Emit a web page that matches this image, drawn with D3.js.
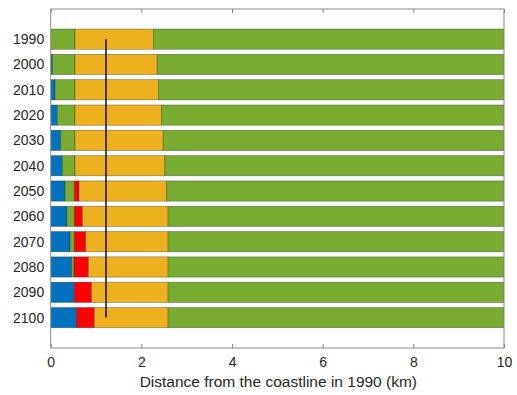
<!DOCTYPE html>
<html>
<head>
<meta charset="utf-8">
<script src="https://cdn.jsdelivr.net/npm/d3@7"></script>
<style>
  html, body { margin: 0; padding: 0; background: #fff; }
  svg { display: block; }
  text { font-family: "Liberation Sans", Arial, Helvetica, sans-serif; fill: #262626; }
</style>
</head>
<body>
<svg id="chart" width="517" height="395"></svg>
<script>
// Years shown on the vertical axis
const years = ["1990", "2000", "2010", "2020", "2030", "2040", "2050", "2060", "2070", "2080", "2090", "2100"];

// Width (km) of each land-cover band, ordered from the coastline inland
const water   = [0, 0.04, 0.095, 0.146, 0.22, 0.256, 0.315, 0.36, 0.426, 0.463, 0.52, 0.573];
const marsh   = [0.536, 0.496, 0.441, 0.39, 0.316, 0.28, 0.205, 0.16, 0.094, 0.051, 0, 0];
const eroded  = [0, 0, 0, 0, 0, 0, 0.104, 0.18, 0.252, 0.316, 0.38, 0.387];
const beach   = [1.727, 1.814, 1.844, 1.904, 1.944, 1.984, 1.936, 1.89, 1.818, 1.76, 1.69, 1.63];
const upland  = [7.737, 7.65, 7.62, 7.56, 7.52, 7.48, 7.44, 7.41, 7.41, 7.41, 7.41, 7.41];

// Reference distance marked by the vertical line (km)
const markerKm = 1.22;

const xTicks = [0, 2, 4, 6, 8, 10];
const seriesColors = ["#0072BD", "#77AC30", "#FF0000", "#EDB120", "#77AC30"];

const svg = d3.select("#chart");
const plot = { left: 50.7, right: 504, top: 9, bottom: 348 };

const x = d3.scaleLinear().domain([0, 10]).range([plot.left, plot.right]);
// Row index -> vertical centre; axis limits leave ~1.2 rows of space at each end
const y = d3.scaleLinear().domain([-1.19, 12.2]).range([plot.top, plot.bottom]);
const rowStep = y(1) - y(0);
const barH = rowStep * 0.8;

const series = [water, marsh, eroded, beach, upland];
const rows = years.map((yr, i) => {
  let acc = 0;
  const segs = series.map((s, k) => {
    const seg = { k, x0: acc, x1: acc + s[i] };
    acc += s[i];
    return seg;
  });
  return { yr, i, segs };
});

svg.append("defs").append("clipPath").attr("id", "plotClip")
  .append("rect")
  .attr("x", plot.left).attr("y", plot.top)
  .attr("width", plot.right - plot.left).attr("height", plot.bottom - plot.top);

const barsG = svg.append("g").attr("clip-path", "url(#plotClip)");
const rowG = barsG.selectAll("g.row").data(rows).join("g").attr("class", "row");
rowG.selectAll("rect")
  .data(d => d.segs.filter(s => s.x1 > s.x0).map(s => ({ ...s, i: d.i })))
  .join("rect")
  .attr("x", d => x(d.x0))
  .attr("width", d => x(d.x1) - x(d.x0))
  .attr("y", d => y(d.i) - barH / 2)
  .attr("height", barH)
  .attr("fill", d => seriesColors[d.k])
  .attr("stroke", "#2a2a2a")
  .attr("stroke-opacity", 0.55)
  .attr("stroke-width", 0.6);

// Vertical reference line
svg.append("line")
  .attr("x1", x(markerKm)).attr("x2", x(markerKm))
  .attr("y1", y(0)).attr("y2", y(years.length - 1))
  .attr("stroke", "#000").attr("stroke-width", 1.4);

// Axis box
svg.append("rect")
  .attr("x", plot.left).attr("y", plot.top)
  .attr("width", plot.right - plot.left).attr("height", plot.bottom - plot.top)
  .attr("fill", "none").attr("stroke", "#8a8a8a").attr("stroke-width", 1);

// Bottom axis with inward ticks
const xAxis = d3.axisBottom(x).tickValues(xTicks).tickFormat(d3.format("d"))
  .tickSizeInner(-4).tickSizeOuter(0).tickPadding(9);
const gx = svg.append("g").attr("transform", `translate(0,${plot.bottom})`).call(xAxis);
gx.select(".domain").remove();
gx.selectAll(".tick line").attr("stroke", "#8a8a8a");
gx.selectAll(".tick text").attr("font-size", 14).attr("fill", "#262626")
  .attr("font-family", "'Liberation Sans', Arial, sans-serif");

// Top inward ticks
const xTop = d3.axisTop(x).tickValues(xTicks).tickFormat("").tickSizeInner(-4).tickSizeOuter(0);
const gt = svg.append("g").attr("transform", `translate(0,${plot.top})`).call(xTop);
gt.select(".domain").remove();
gt.selectAll(".tick line").attr("stroke", "#8a8a8a");

// Year labels
svg.append("g").selectAll("text").data(years).join("text")
  .attr("x", plot.left - 6.5)
  .attr("y", (d, i) => y(i))
  .attr("dy", "0.36em")
  .attr("text-anchor", "end")
  .attr("font-size", 14)
  .text(d => d);

// Axis title
svg.append("text")
  .attr("x", (plot.left + plot.right) / 2 + 1)
  .attr("y", 386.5)
  .attr("text-anchor", "middle")
  .attr("font-size", 15.5)
  .text("Distance from the coastline in 1990 (km)");
</script>
</body>
</html>
